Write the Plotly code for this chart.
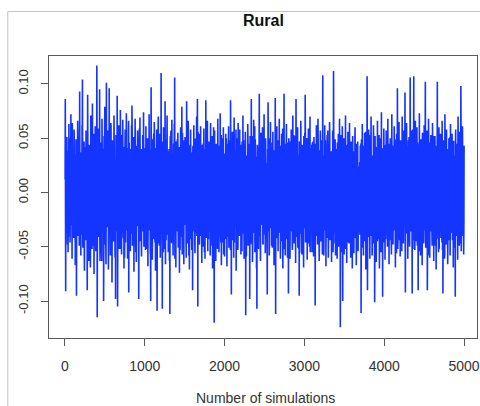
import plotly.graph_objects as go

# Posterior draws read/estimated from the reference trace.
# Set A: draws at simulations 5, 10, 15, ... 5000
rural_block1 = [
    0.086, -0.091, 0.024, -0.037, 0.051, -0.012, 0.038, -0.055, 0.019, 0.063, -0.028, 0.004, -0.046, 0.031, 0.072, -0.019, 0.045, -0.061, 0.010, -0.033,
    0.027, -0.042, 0.058, -0.008, 0.035, -0.067, 0.015, 0.049, -0.095, 0.041, -0.022, 0.066, -0.039, 0.003, 0.052, -0.049, 0.093, -0.026, 0.037, -0.058,
    0.018, -0.035, 0.062, 0.104, -0.051, 0.029, -0.014, 0.047, -0.072, 0.036, 0.008, -0.044, 0.057, -0.023, 0.039, -0.090, 0.090, -0.031, 0.021, -0.063,
    0.044, -0.017, 0.033, -0.069, 0.071, -0.006, 0.026, -0.052, 0.082, -0.038, 0.012, 0.054, -0.075, 0.022, -0.029, 0.061, -0.047, 0.035, -0.011, 0.117,
    -0.115, 0.038, -0.024, 0.059, -0.041, 0.017, 0.095, -0.063, 0.028, -0.009, 0.046, -0.054, 0.068, -0.018, 0.031, -0.037, -0.100, 0.052, -0.027, 0.079,
    -0.048, 0.023, -0.066, 0.101, -0.032, 0.043, -0.013, 0.057, -0.071, 0.019, 0.096, -0.039, 0.027, -0.058, 0.064, -0.005, 0.036, -0.083, 0.048, -0.021,
    0.039, -0.044, 0.071, -0.016, 0.025, -0.060, -0.098, 0.053, -0.028, 0.034, 0.089, -0.105, 0.045, -0.019, 0.062, -0.034, 0.015, -0.052, 0.076, -0.024,
    0.031, -0.057, 0.049, -0.003, 0.067, -0.036, 0.018, -0.070, 0.042, -0.015, 0.058, -0.046, 0.024, 0.073, -0.030, 0.009, -0.061, 0.040, 0.055, -0.092,
    0.046, -0.021, 0.030, -0.054, 0.014, -0.038, 0.062, 0.080, -0.049, 0.026, -0.010, 0.051, -0.073, 0.037, -0.025, 0.068, -0.042, 0.020, -0.064, 0.043,
    -0.031, 0.057, -0.012, 0.035, -0.098, 0.047, -0.020, 0.069, -0.045, 0.016, 0.040, -0.059, 0.028, -0.007, 0.053, -0.036, 0.074, -0.050, 0.022, -0.017,
]
rural_block2 = [
    0.034, -0.053, 0.061, -0.026, 0.019, -0.040, 0.050, -0.068, 0.029, -0.011, 0.072, -0.035, 0.013, -0.056, -0.100, 0.097, -0.030, 0.044, -0.062, 0.025,
    -0.018, 0.048, -0.043, 0.065, -0.008, 0.032, -0.072, 0.041, -0.027, 0.058, -0.109, 0.037, -0.015, 0.070, -0.047, 0.021, -0.033, 0.054, -0.060, 0.027,
    0.110, -0.038, 0.045, -0.107, 0.023, -0.014, 0.060, -0.052, 0.033, -0.025, 0.084, -0.066, 0.017, 0.049, -0.039, 0.071, -0.021, 0.030, -0.055, 0.012,
    0.040, -0.063, -0.112, 0.052, -0.029, 0.018, -0.046, 0.067, -0.010, 0.036, -0.058, 0.025, -0.034, 0.063, 0.106, -0.044, 0.014, -0.069, 0.047, -0.022,
    0.029, -0.036, 0.055, -0.051, 0.011, 0.042, -0.074, 0.034, -0.019, 0.060, -0.041, 0.006, 0.079, -0.057, 0.024, -0.012, 0.048, -0.066, 0.037, -0.028,
    0.051, -0.020, 0.032, -0.060, 0.084, -0.033, 0.015, -0.047, 0.066, -0.009, 0.041, -0.071, 0.027, -0.016, 0.058, -0.043, 0.035, -0.053, 0.020, -0.090,
    0.043, -0.031, 0.062, -0.018, 0.026, -0.056, 0.049, -0.037, 0.013, 0.070, -0.024, 0.086, -0.105, 0.038, -0.012, 0.054, -0.048, 0.022, -0.035, 0.061,
    -0.040, 0.017, -0.065, 0.044, -0.022, 0.031, -0.050, 0.059, -0.007, 0.037, -0.061, 0.023, 0.085, -0.042, 0.010, -0.029, 0.066, -0.054, 0.028, -0.014,
    0.047, -0.036, 0.020, -0.058, 0.064, -0.025, 0.039, -0.011, 0.052, -0.070, 0.030, -0.044, 0.016, -0.120, 0.057, -0.021, 0.034, -0.063, 0.045, -0.006,
    0.025, -0.049, 0.068, -0.032, 0.014, -0.055, 0.041, -0.017, 0.073, -0.038, 0.021, -0.067, 0.050, -0.004, 0.033, -0.046, 0.060, -0.027, 0.018, -0.059,
]
rural_block3 = [
    0.036, -0.013, 0.054, -0.042, 0.027, -0.068, 0.045, -0.023, 0.009, 0.061, -0.051, 0.031, -0.035, 0.048, 0.085, -0.019, -0.094, 0.040, -0.028, 0.056,
    -0.044, 0.022, -0.060, 0.069, -0.015, 0.038, -0.031, 0.013, -0.072, 0.050, -0.024, 0.035, -0.053, 0.064, -0.008, 0.027, -0.040, 0.058, -0.020, 0.042,
    -0.057, 0.030, -0.016, 0.047, -0.038, 0.071, -0.026, 0.019, -0.061, 0.043, -0.009, 0.056, -0.113, 0.034, -0.045, 0.024, -0.030, 0.063, -0.049, 0.015,
    0.039, -0.021, -0.098, 0.052, -0.034, 0.020, 0.086, -0.046, 0.028, -0.064, 0.041, -0.012, 0.067, -0.037, 0.016, -0.055, 0.049, -0.025, 0.033, -0.070,
    -0.107, 0.044, -0.018, 0.037, -0.052, 0.026, 0.091, -0.040, 0.012, -0.063, 0.055, -0.029, 0.038, -0.011, 0.060, -0.047, 0.022, -0.035, 0.072, -0.023,
    0.031, -0.056, 0.047, -0.014, 0.025, -0.039, -0.094, 0.040, 0.083, -0.027, 0.018, -0.058, 0.050, -0.033, 0.065, -0.006, 0.029, -0.049, 0.042, -0.020,
    0.056, -0.031, 0.023, -0.067, 0.036, -0.015, 0.087, -0.112, 0.044, -0.022, 0.061, -0.040, 0.017, -0.054, 0.032, -0.009, 0.068, -0.036, 0.025, -0.061,
    0.039, -0.018, 0.054, -0.045, 0.014, -0.070, 0.048, -0.026, 0.091, -0.034, 0.021, -0.058, 0.037, -0.012, 0.063, -0.043, 0.027, -0.030, 0.046, -0.093,
    0.050, -0.024, 0.033, -0.061, 0.019, -0.036, 0.058, -0.008, 0.040, -0.053, 0.071, -0.029, 0.015, -0.047, 0.036, -0.016, 0.052, -0.065, 0.086, -0.032,
    0.024, -0.041, 0.060, -0.019, 0.035, -0.052, -0.095, 0.047, -0.027, 0.013, 0.066, -0.038, 0.029, -0.057, 0.044, -0.010, 0.038, -0.069, 0.021, -0.033,
]
rural_block4 = [
    0.055, 0.090, -0.046, 0.028, -0.020, 0.049, -0.062, 0.032, -0.013, 0.059, -0.037, 0.018, -0.050, 0.070, -0.028, 0.041, -0.007, 0.026, -0.055, 0.046,
    -0.022, 0.037, -0.059, 0.051, -0.016, 0.030, -0.104, 0.045, -0.034, 0.062, -0.011, 0.024, -0.048, 0.068, -0.030, 0.014, -0.063, 0.039, -0.025, 0.057,
    -0.039, 0.026, -0.014, 0.048, -0.057, 0.108, -0.029, 0.034, -0.046, 0.017, 0.062, -0.035, 0.028, -0.068, 0.043, -0.008, 0.053, -0.042, 0.021, -0.060,
    0.046, -0.027, 0.065, -0.044, 0.012, -0.033, 0.038, -0.064, 0.025, -0.018, 0.057, -0.050, 0.112, -0.037, 0.029, -0.011, 0.049, -0.058, 0.034, -0.021,
    0.040, -0.061, 0.023, -0.030, 0.054, -0.043, 0.015, 0.068, -0.026, -0.124, 0.045, -0.012, 0.032, -0.055, 0.061, -0.100, 0.027, -0.038, 0.050, -0.016,
    0.033, -0.052, 0.071, -0.020, 0.041, -0.065, 0.019, -0.031, 0.056, -0.009, 0.028, -0.047, 0.064, -0.036, 0.012, -0.060, 0.047, -0.023, 0.035, -0.070,
    0.052, -0.029, 0.038, -0.056, 0.021, -0.014, 0.060, -0.042, 0.030, -0.067, 0.045, -0.019, 0.026, -0.048, 0.013, 0.008, -0.012, 0.017, -0.039, 0.043,
    0.035, -0.111, 0.049, -0.032, 0.063, -0.024, 0.016, -0.058, 0.041, -0.010, 0.055, -0.045, 0.028, -0.071, 0.039, -0.017, 0.107, -0.090, 0.044, -0.026,
    0.058, -0.036, 0.024, -0.061, 0.047, -0.015, 0.070, -0.040, 0.031, -0.053, 0.019, -0.028, 0.062, -0.047, 0.036, -0.101, 0.052, -0.021, 0.027, -0.064,
    0.042, -0.019, 0.066, -0.043, 0.015, -0.034, 0.053, -0.070, 0.029, -0.008, 0.047, -0.055, 0.074, -0.031, 0.020, -0.096, 0.038, -0.024, 0.059, -0.046,
]
rural_block5 = [
    0.026, -0.062, 0.044, -0.017, 0.057, -0.039, 0.011, -0.050, 0.068, -0.027, 0.035, -0.066, 0.022, -0.012, 0.050, -0.044, 0.031, -0.057, 0.072, -0.023,
    0.039, -0.048, 0.027, -0.033, 0.061, -0.020, 0.045, -0.069, 0.018, -0.041, 0.054, -0.011, 0.096, -0.052, 0.030, -0.026, 0.065, -0.037, 0.023, -0.059,
    0.048, -0.015, 0.034, -0.054, 0.070, -0.030, 0.019, -0.047, 0.057, -0.022, 0.039, 0.092, -0.092, 0.043, -0.016, 0.064, -0.038, 0.025, -0.061, 0.036,
    -0.028, 0.051, -0.043, 0.022, 0.106, -0.036, 0.047, -0.019, 0.031, -0.093, 0.058, -0.025, 0.040, 0.107, -0.052, 0.016, -0.034, 0.066, -0.045, 0.029,
    -0.017, 0.060, -0.049, 0.035, -0.090, 0.044, -0.021, 0.073, -0.032, 0.013, -0.058, 0.049, -0.026, 0.037, -0.067, 0.055, -0.010, 0.028, -0.044, 0.062,
    -0.035, 0.024, 0.102, -0.051, 0.040, -0.018, 0.057, -0.090, 0.033, -0.027, 0.068, -0.040, 0.016, -0.060, 0.046, -0.012, 0.053, -0.036, 0.021, -0.049,
    0.064, -0.029, 0.037, -0.063, 0.025, -0.015, 0.052, -0.046, 0.030, -0.071, 0.043, -0.022, 0.102, -0.038, 0.018, -0.055, 0.060, -0.031, 0.041, -0.017,
    0.054, -0.042, 0.027, -0.020, 0.066, -0.053, -0.093, 0.045, -0.013, 0.035, -0.061, 0.072, -0.034, 0.019, -0.048, 0.058, -0.025, 0.032, -0.066, 0.040,
    -0.019, 0.050, -0.037, 0.026, -0.058, 0.063, -0.028, 0.039, -0.011, 0.054, -0.044, 0.021, -0.069, 0.047, -0.023, 0.034, -0.051, -0.096, 0.058, -0.030,
    0.045, -0.016, 0.031, -0.062, 0.070, -0.033, 0.022, -0.049, 0.056, -0.021, 0.038, 0.098, -0.054, 0.027, -0.040, 0.061, -0.012, 0.035, -0.057, 0.043,
]

# Set B: draws at simulations 3, 8, 13, ... 4998
rural_mid1 = [
    0.012, -0.027, 0.041, 0.005, -0.033, 0.022, -0.048, 0.017, 0.034, -0.009, -0.041, 0.028, 0.050, -0.015, 0.007, -0.030, 0.039, -0.022, 0.064, 0.003,
    -0.036, 0.019, -0.011, 0.045, -0.026, 0.010, 0.031, -0.053, 0.024, -0.004, 0.037, -0.018, 0.055, -0.040, 0.015, 0.029, -0.023, 0.008, -0.044, 0.032,
    0.021, -0.039, 0.006, 0.048, -0.016, 0.035, -0.029, 0.013, -0.058, 0.026, 0.042, -0.007, -0.035, 0.019, 0.051, -0.024, 0.003, 0.038, -0.046, 0.014,
    -0.020, 0.033, -0.043, 0.009, 0.027, -0.012, 0.060, -0.031, 0.016, -0.049, 0.038, 0.002, -0.025, 0.044, -0.037, 0.023, 0.011, -0.054, 0.030, -0.008,
    0.047, -0.022, 0.015, -0.038, 0.029, 0.052, -0.010, -0.044, 0.036, 0.004, -0.028, 0.018, -0.063, 0.025, 0.040, -0.013, 0.033, -0.034, 0.009, 0.057,
    -0.015, 0.028, -0.050, 0.020, -0.006, 0.043, -0.032, 0.037, 0.011, -0.047, 0.024, -0.019, 0.046, -0.027, 0.005, 0.061, -0.041, 0.017, -0.012, 0.035,
    0.026, -0.045, 0.008, 0.039, -0.021, -0.057, 0.030, 0.014, -0.036, 0.049, -0.009, 0.022, -0.031, 0.007, 0.044, -0.052, 0.019, 0.034, -0.026, 0.001,
    -0.039, 0.016, 0.053, -0.024, 0.031, -0.011, -0.042, 0.027, 0.006, -0.060, 0.038, -0.017, 0.023, 0.048, -0.035, 0.012, -0.020, 0.041, -0.029, 0.066,
    0.009, -0.034, 0.025, -0.051, 0.040, -0.014, 0.018, -0.026, 0.055, 0.002, -0.043, 0.032, -0.008, 0.021, -0.037, 0.046, 0.013, -0.055, 0.028, -0.004,
    0.037, -0.018, -0.031, 0.044, 0.010, -0.025, 0.059, -0.040, 0.022, -0.006, 0.034, -0.048, 0.017, 0.003, -0.030, 0.050, -0.016, 0.026, -0.045, 0.013,
]
rural_mid2 = [
    -0.024, 0.041, 0.007, -0.037, 0.029, -0.052, 0.018, 0.046, -0.013, 0.025, -0.034, 0.011, 0.039, -0.020, -0.058, 0.032, 0.004, -0.027, 0.049, -0.010,
    0.030, -0.015, 0.054, -0.033, 0.012, -0.046, 0.027, 0.005, -0.021, 0.043, -0.038, 0.019, -0.007, 0.062, -0.029, 0.016, -0.049, 0.035, 0.008, -0.040,
    0.018, -0.028, 0.036, -0.012, 0.047, 0.001, -0.055, 0.024, -0.035, 0.040, 0.013, -0.019, 0.031, -0.044, 0.009, 0.052, -0.026, -0.003, 0.038, -0.050,
    0.022, -0.041, 0.011, 0.035, -0.018, 0.057, -0.030, 0.004, -0.047, 0.026, 0.014, -0.033, 0.045, -0.009, 0.020, -0.061, 0.037, -0.014, 0.028, 0.006,
    -0.032, 0.049, -0.021, 0.013, -0.039, 0.030, -0.005, 0.042, -0.053, 0.019, 0.033, -0.024, 0.008, -0.041, 0.055, -0.016, 0.025, -0.036, 0.047, -0.011,
    0.016, -0.030, 0.039, -0.045, 0.023, 0.006, -0.027, 0.051, -0.014, 0.032, -0.058, 0.020, -0.003, 0.044, -0.034, 0.011, 0.029, -0.048, 0.037, -0.019,
    0.041, -0.008, 0.026, -0.036, 0.014, -0.050, 0.033, 0.049, -0.023, 0.007, -0.040, 0.028, -0.015, 0.056, -0.031, 0.018, -0.044, 0.003, 0.035, -0.026,
    -0.012, 0.038, -0.047, 0.021, 0.009, -0.029, 0.045, -0.017, 0.030, -0.055, 0.015, 0.040, -0.022, -0.006, 0.027, -0.038, 0.052, -0.010, 0.019, -0.043,
    0.033, -0.024, 0.010, 0.047, -0.039, 0.018, -0.013, 0.036, -0.049, 0.025, 0.004, -0.032, 0.060, -0.018, 0.012, -0.045, 0.029, 0.041, -0.027, 0.008,
    -0.036, 0.022, -0.052, 0.031, 0.015, -0.020, 0.043, -0.008, -0.034, 0.026, -0.046, 0.053, 0.006, -0.029, 0.037, -0.015, 0.021, -0.057, 0.034, 0.011,
]
rural_mid3 = [
    0.028, -0.043, 0.017, -0.010, 0.050, -0.026, 0.035, -0.041, 0.008, 0.023, -0.031, 0.046, -0.018, 0.012, -0.053, 0.039, -0.005, 0.030, -0.037, 0.055,
    -0.019, 0.034, -0.028, 0.042, -0.046, 0.010, 0.026, -0.015, 0.058, -0.033, 0.019, -0.007, 0.040, -0.050, 0.024, 0.003, -0.038, 0.047, -0.022, 0.014,
    0.044, -0.011, 0.021, -0.054, 0.032, -0.025, 0.009, 0.048, -0.030, 0.016, -0.043, 0.037, -0.003, 0.025, -0.059, 0.029, 0.013, -0.036, 0.051, -0.016,
    0.007, -0.037, 0.045, -0.021, 0.018, -0.048, 0.034, -0.009, 0.027, 0.052, -0.040, 0.015, -0.026, 0.039, -0.013, 0.061, -0.032, 0.020, -0.045, 0.030,
    -0.027, 0.013, 0.038, -0.044, 0.024, -0.006, 0.049, -0.035, 0.010, -0.052, 0.031, -0.017, 0.043, 0.001, -0.030, 0.036, -0.048, 0.022, 0.008, -0.039,
    0.035, -0.020, 0.050, -0.031, 0.005, 0.027, -0.056, 0.018, -0.012, 0.041, -0.036, 0.024, -0.045, 0.032, 0.011, -0.025, 0.046, -0.014, 0.029, -0.051,
    0.017, -0.034, 0.028, -0.047, 0.039, -0.008, 0.021, -0.029, 0.054, -0.019, 0.006, -0.042, 0.033, 0.048, -0.023, 0.014, -0.037, 0.025, -0.010, 0.043,
    -0.046, 0.026, -0.015, 0.037, -0.024, 0.059, -0.039, 0.012, 0.030, -0.052, 0.019, -0.004, 0.045, -0.028, 0.035, -0.017, 0.008, -0.060, 0.023, 0.040,
    -0.013, 0.032, -0.041, 0.016, 0.047, -0.022, 0.006, -0.035, 0.028, -0.049, 0.038, 0.010, -0.027, 0.053, -0.016, 0.024, -0.044, 0.036, -0.007, 0.019,
    0.042, -0.030, 0.013, -0.051, 0.034, 0.020, -0.014, 0.046, -0.038, 0.009, -0.025, 0.031, -0.056, 0.017, 0.039, -0.011, 0.027, -0.043, 0.052, -0.019,
]
rural_mid4 = [
    0.024, -0.009, 0.037, -0.042, 0.015, -0.028, 0.050, 0.003, -0.033, 0.026, -0.047, 0.040, -0.018, 0.012, -0.055, 0.033, 0.021, -0.036, 0.044, -0.012,
    -0.031, 0.047, -0.020, 0.029, -0.053, 0.014, 0.036, -0.025, 0.007, -0.040, 0.055, -0.015, 0.023, -0.034, 0.042, -0.006, 0.018, -0.048, 0.031, 0.010,
    0.027, -0.045, 0.012, 0.040, -0.019, 0.033, -0.037, 0.021, -0.058, 0.030, 0.005, -0.027, 0.048, -0.012, 0.019, -0.041, 0.035, -0.023, 0.057, -0.004,
    -0.038, 0.018, -0.026, 0.051, -0.012, 0.029, -0.044, 0.009, 0.037, -0.031, 0.024, -0.055, 0.014, 0.043, -0.020, 0.032, -0.047, 0.016, -0.008, 0.039,
    0.013, -0.035, 0.046, -0.017, 0.028, -0.050, 0.020, 0.036, -0.024, 0.011, -0.043, 0.053, -0.030, 0.006, 0.038, -0.014, 0.025, -0.039, 0.017, -0.057,
    0.034, -0.016, 0.025, -0.037, 0.010, 0.044, -0.029, 0.019, -0.046, 0.027, -0.009, 0.015, 0.003, -0.011, 0.006, -0.007, 0.014, -0.020, 0.031, -0.025,
    0.040, -0.028, 0.016, -0.047, 0.035, -0.013, 0.052, -0.034, 0.021, 0.007, -0.041, 0.030, -0.019, 0.047, -0.054, 0.024, 0.012, -0.036, 0.028, -0.010,
    -0.023, 0.045, -0.032, 0.013, -0.051, 0.037, 0.020, -0.016, 0.043, -0.039, 0.009, 0.031, -0.026, 0.056, -0.014, 0.022, -0.045, 0.035, -0.005, 0.018,
    0.029, -0.041, 0.053, -0.022, 0.008, -0.036, 0.041, -0.011, 0.025, -0.058, 0.034, 0.016, -0.030, 0.045, -0.018, 0.027, -0.049, 0.012, 0.038, -0.027,
    -0.014, 0.032, -0.045, 0.024, 0.047, -0.019, 0.010, -0.038, 0.030, -0.005, 0.050, -0.033, 0.018, -0.052, 0.036, -0.010, 0.022, 0.041, -0.029, 0.015,
]
rural_mid5 = [
    0.037, -0.024, 0.012, -0.043, 0.029, 0.054, -0.016, 0.021, -0.037, 0.008, -0.050, 0.033, 0.045, -0.020, 0.014, -0.031, 0.040, -0.046, 0.026, -0.003,
    -0.030, 0.019, 0.043, -0.035, 0.011, -0.022, 0.049, -0.041, 0.027, 0.006, -0.056, 0.036, -0.013, 0.024, -0.038, 0.058, -0.009, 0.017, -0.044, 0.031,
    0.020, -0.048, 0.035, -0.012, 0.027, -0.039, 0.016, 0.046, -0.025, 0.038, -0.017, 0.009, -0.052, 0.030, 0.051, -0.021, 0.004, -0.033, 0.042, -0.015,
    0.048, -0.027, 0.013, -0.050, 0.039, -0.008, 0.024, -0.036, 0.057, -0.019, 0.030, -0.044, 0.010, 0.035, -0.028, 0.016, -0.053, 0.041, -0.013, 0.026,
    -0.041, 0.025, -0.015, 0.046, -0.031, 0.012, 0.038, -0.054, 0.021, -0.006, 0.044, -0.025, 0.033, -0.040, 0.017, 0.052, -0.018, 0.029, -0.047, 0.009,
    0.031, -0.012, 0.049, -0.038, 0.020, -0.027, 0.011, 0.043, -0.045, 0.024, -0.016, 0.036, -0.058, 0.027, 0.005, -0.033, 0.047, -0.021, 0.015, -0.040,
    0.018, -0.036, 0.027, 0.052, -0.022, 0.034, -0.049, 0.013, -0.030, 0.041, 0.007, -0.043, 0.025, -0.014, 0.056, -0.028, 0.019, -0.052, 0.038, -0.009,
    -0.026, 0.042, -0.011, 0.030, -0.046, 0.021, 0.037, -0.019, 0.048, -0.034, 0.010, -0.057, 0.029, 0.016, -0.025, 0.044, -0.038, 0.023, 0.003, -0.041,
    0.036, -0.021, 0.014, -0.044, 0.051, -0.010, 0.027, -0.037, 0.019, 0.040, -0.028, 0.033, -0.013, 0.047, -0.050, 0.022, 0.008, -0.032, 0.045, -0.017,
    0.024, -0.040, 0.032, -0.015, 0.046, -0.029, 0.010, 0.039, -0.023, 0.017, -0.047, 0.028, 0.041, -0.019, 0.034, -0.036, 0.022, -0.011, 0.030, -0.026,
]

draws_a = rural_block1 + rural_block2 + rural_block3 + rural_block4 + rural_block5
draws_b = rural_mid1 + rural_mid2 + rural_mid3 + rural_mid4 + rural_mid5
sims_a = list(range(5, 5001, 5))
sims_b = list(range(3, 5001, 5))

# merge the two thinned sets into one chain ordered by simulation number
chain = list(zip(sims_a, draws_a)) + list(zip(sims_b, draws_b))
chain.sort(key=lambda p: p[0])
simulation_index = [p[0] for p in chain]
rural_values = [p[1] for p in chain]

x_tick_values = [0, 1000, 2000, 3000, 4000, 5000]
x_tick_labels = ["0", "1000", "2000", "3000", "4000", "5000"]
y_tick_values = [-0.10, -0.05, 0.00, 0.05, 0.10]
y_tick_labels = ["-0.10", "-0.05", "0.00", "0.05", "0.10"]

title_text = "Rural"
x_title_text = "Number of simulations"

FONT = "Liberation Sans, Arial, Helvetica, sans-serif"
AXIS_GRAY = "#5a5a5a"
TEXT_GRAY = "#333333"

fig = go.Figure()
fig.add_trace(go.Scatter(
    x=simulation_index,
    y=rural_values,
    mode="lines",
    line=dict(color="#1434ff", width=1.6, simplify=False),
    hoverinfo="skip",
    showlegend=False,
))

fig.update_layout(
    width=480,
    height=406,
    margin=dict(l=49, r=0, t=56, b=68),
    paper_bgcolor="white",
    plot_bgcolor="white",
    font=dict(family=FONT, color=TEXT_GRAY),
    showlegend=False,
    xaxis=dict(
        range=[-199, 5162],
        tickmode="array",
        tickvals=x_tick_values,
        ticktext=x_tick_labels,
        ticks="outside",
        ticklen=7,
        tickwidth=1,
        tickcolor=AXIS_GRAY,
        showline=True,
        linecolor=AXIS_GRAY,
        linewidth=1,
        mirror=True,
        showgrid=False,
        zeroline=False,
        tickfont=dict(size=14, color=TEXT_GRAY, family=FONT),
        ticklabelstandoff=8,
        ticklabeloverflow="allow",
    ),
    yaxis=dict(
        range=[-0.134, 0.1257],
        tickmode="array",
        tickvals=y_tick_values,
        ticktext=y_tick_labels,
        ticks="outside",
        ticklen=7,
        tickwidth=1,
        tickcolor=AXIS_GRAY,
        showline=True,
        linecolor=AXIS_GRAY,
        linewidth=1,
        mirror=True,
        showgrid=False,
        zeroline=False,
        tickangle=-90,
        tickfont=dict(size=13, color=TEXT_GRAY, family=FONT),
        ticklabelstandoff=8,
    ),
)

fig.add_annotation(
    text="<b>" + title_text + "</b>",
    xref="paper", yref="paper", x=0.5, y=(338 - 20) / 282,
    xanchor="center", yanchor="middle", showarrow=False,
    font=dict(size=16, color="#111111", family=FONT),
)
fig.add_annotation(
    text=x_title_text,
    xref="paper", yref="paper", x=(267 - 49) / 431, y=(338 - 398) / 282,
    xanchor="center", yanchor="middle", showarrow=False,
    font=dict(size=14, color=TEXT_GRAY, family=FONT),
)

# light gray frame of the screenshot (left and top edges)
fx = (7.5 - 49) / 431
fy_top = (338 - 11.5) / 282
fig.add_shape(type="line", xref="paper", yref="paper",
              x0=fx, x1=fx, y0=fy_top, y1=(338 - 410) / 282,
              line=dict(color="#c4c4c4", width=1))
fig.add_shape(type="line", xref="paper", yref="paper",
              x0=fx, x1=1.05, y0=fy_top, y1=fy_top,
              line=dict(color="#c4c4c4", width=1))

fig.write_html("out.html")
